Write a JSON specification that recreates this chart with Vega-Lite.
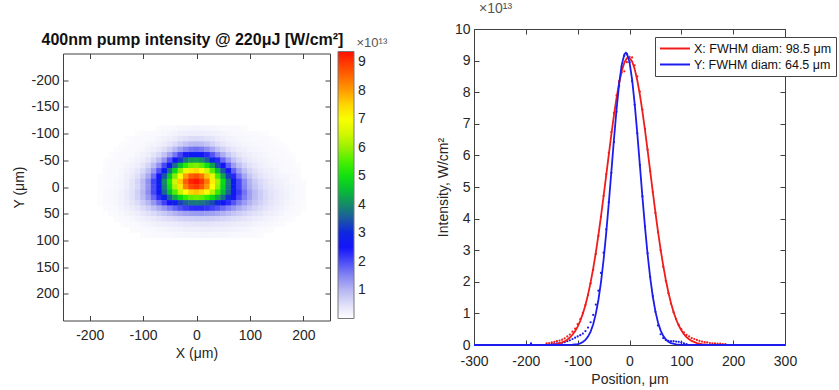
{
"$schema": "https://vega.github.io/schema/vega-lite/v6.json",
"background": "white",
"padding": {"left": 12, "top": 1, "right": 0, "bottom": 0},
"spacing": 144,
"bounds": "flush",
"center": true,
"config": {
"font": "Liberation Sans",
"view": {"stroke": "#404040", "strokeWidth": 1},
"axis": {"grid": false, "domain": false, "tickSize": -5, "tickColor": "#404040", "labelPadding": 9, "labelFontSize": 14, "labelColor": "#262626", "titleFontSize": 14, "titleFontWeight": "normal", "titleColor": "#262626", "labelFlush": false, "labelOverlap": false, "titlePadding": 4}
},
"datasets": {
"heat": [
{"x":-70,"y":-110,"v":0.06},{"x":-60,"y":-110,"v":0.07},{"x":-50,"y":-110,"v":0.08},{"x":-40,"y":-110,"v":0.11},{"x":-30,"y":-110,"v":0.13},{"x":-20,"y":-110,"v":0.14},{"x":-10,"y":-110,"v":0.15},{"x":0,"y":-110,"v":0.16},{"x":10,"y":-110,"v":0.15},{"x":20,"y":-110,"v":0.14},{"x":30,"y":-110,"v":0.13},{"x":40,"y":-110,"v":0.11},{"x":50,"y":-110,"v":0.09},{"x":60,"y":-110,"v":0.08},{"x":70,"y":-110,"v":0.08},{"x":80,"y":-110,"v":0.07},{"x":90,"y":-110,"v":0.06},
{"x":-110,"y":-100,"v":0.05},{"x":-100,"y":-100,"v":0.06},{"x":-90,"y":-100,"v":0.07},{"x":-80,"y":-100,"v":0.08},{"x":-70,"y":-100,"v":0.09},{"x":-60,"y":-100,"v":0.12},{"x":-50,"y":-100,"v":0.15},{"x":-40,"y":-100,"v":0.18},{"x":-30,"y":-100,"v":0.22},{"x":-20,"y":-100,"v":0.26},{"x":-10,"y":-100,"v":0.28},{"x":0,"y":-100,"v":0.28},{"x":10,"y":-100,"v":0.28},{"x":20,"y":-100,"v":0.25},{"x":30,"y":-100,"v":0.22},{"x":40,"y":-100,"v":0.19},{"x":50,"y":-100,"v":0.16},{"x":60,"y":-100,"v":0.13},{"x":70,"y":-100,"v":0.11},{"x":80,"y":-100,"v":0.10},{"x":90,"y":-100,"v":0.09},{"x":100,"y":-100,"v":0.08},{"x":110,"y":-100,"v":0.07},{"x":120,"y":-100,"v":0.06},{"x":130,"y":-100,"v":0.05},
{"x":-130,"y":-90,"v":0.05},{"x":-120,"y":-90,"v":0.06},{"x":-110,"y":-90,"v":0.07},{"x":-100,"y":-90,"v":0.08},{"x":-90,"y":-90,"v":0.09},{"x":-80,"y":-90,"v":0.11},{"x":-70,"y":-90,"v":0.15},{"x":-60,"y":-90,"v":0.19},{"x":-50,"y":-90,"v":0.24},{"x":-40,"y":-90,"v":0.31},{"x":-30,"y":-90,"v":0.39},{"x":-20,"y":-90,"v":0.47},{"x":-10,"y":-90,"v":0.53},{"x":0,"y":-90,"v":0.54},{"x":10,"y":-90,"v":0.51},{"x":20,"y":-90,"v":0.46},{"x":30,"y":-90,"v":0.39},{"x":40,"y":-90,"v":0.31},{"x":50,"y":-90,"v":0.24},{"x":60,"y":-90,"v":0.20},{"x":70,"y":-90,"v":0.16},{"x":80,"y":-90,"v":0.13},{"x":90,"y":-90,"v":0.12},{"x":100,"y":-90,"v":0.10},{"x":110,"y":-90,"v":0.09},{"x":120,"y":-90,"v":0.08},{"x":130,"y":-90,"v":0.07},{"x":140,"y":-90,"v":0.06},{"x":150,"y":-90,"v":0.05},
{"x":-140,"y":-80,"v":0.05},{"x":-130,"y":-80,"v":0.06},{"x":-120,"y":-80,"v":0.07},{"x":-110,"y":-80,"v":0.09},{"x":-100,"y":-80,"v":0.10},{"x":-90,"y":-80,"v":0.13},{"x":-80,"y":-80,"v":0.16},{"x":-70,"y":-80,"v":0.21},{"x":-60,"y":-80,"v":0.29},{"x":-50,"y":-80,"v":0.40},{"x":-40,"y":-80,"v":0.53},{"x":-30,"y":-80,"v":0.69},{"x":-20,"y":-80,"v":0.84},{"x":-10,"y":-80,"v":0.94},{"x":0,"y":-80,"v":0.97},{"x":10,"y":-80,"v":0.92},{"x":20,"y":-80,"v":0.80},{"x":30,"y":-80,"v":0.65},{"x":40,"y":-80,"v":0.50},{"x":50,"y":-80,"v":0.38},{"x":60,"y":-80,"v":0.29},{"x":70,"y":-80,"v":0.23},{"x":80,"y":-80,"v":0.19},{"x":90,"y":-80,"v":0.15},{"x":100,"y":-80,"v":0.14},{"x":110,"y":-80,"v":0.12},{"x":120,"y":-80,"v":0.10},{"x":130,"y":-80,"v":0.09},{"x":140,"y":-80,"v":0.07},{"x":150,"y":-80,"v":0.06},{"x":160,"y":-80,"v":0.05},
{"x":-150,"y":-70,"v":0.05},{"x":-140,"y":-70,"v":0.06},{"x":-130,"y":-70,"v":0.08},{"x":-120,"y":-70,"v":0.09},{"x":-110,"y":-70,"v":0.11},{"x":-100,"y":-70,"v":0.14},{"x":-90,"y":-70,"v":0.19},{"x":-80,"y":-70,"v":0.25},{"x":-70,"y":-70,"v":0.35},{"x":-60,"y":-70,"v":0.50},{"x":-50,"y":-70,"v":0.70},{"x":-40,"y":-70,"v":0.96},{"x":-30,"y":-70,"v":1.23},{"x":-20,"y":-70,"v":1.48},{"x":-10,"y":-70,"v":1.65},{"x":0,"y":-70,"v":1.69},{"x":10,"y":-70,"v":1.60},{"x":20,"y":-70,"v":1.41},{"x":30,"y":-70,"v":1.15},{"x":40,"y":-70,"v":0.88},{"x":50,"y":-70,"v":0.66},{"x":60,"y":-70,"v":0.48},{"x":70,"y":-70,"v":0.35},{"x":80,"y":-70,"v":0.27},{"x":90,"y":-70,"v":0.22},{"x":100,"y":-70,"v":0.17},{"x":110,"y":-70,"v":0.15},{"x":120,"y":-70,"v":0.13},{"x":130,"y":-70,"v":0.11},{"x":140,"y":-70,"v":0.09},{"x":150,"y":-70,"v":0.08},{"x":160,"y":-70,"v":0.06},{"x":170,"y":-70,"v":0.05},
{"x":-160,"y":-60,"v":0.05},{"x":-150,"y":-60,"v":0.06},{"x":-140,"y":-60,"v":0.08},{"x":-130,"y":-60,"v":0.09},{"x":-120,"y":-60,"v":0.11},{"x":-110,"y":-60,"v":0.15},{"x":-100,"y":-60,"v":0.20},{"x":-90,"y":-60,"v":0.27},{"x":-80,"y":-60,"v":0.39},{"x":-70,"y":-60,"v":0.58},{"x":-60,"y":-60,"v":0.84},{"x":-50,"y":-60,"v":1.20},{"x":-40,"y":-60,"v":1.62},{"x":-30,"y":-60,"v":2.06},{"x":-20,"y":-60,"v":2.45},{"x":-10,"y":-60,"v":2.70},{"x":0,"y":-60,"v":2.77},{"x":10,"y":-60,"v":2.63},{"x":20,"y":-60,"v":2.32},{"x":30,"y":-60,"v":1.91},{"x":40,"y":-60,"v":1.49},{"x":50,"y":-60,"v":1.10},{"x":60,"y":-60,"v":0.78},{"x":70,"y":-60,"v":0.56},{"x":80,"y":-60,"v":0.40},{"x":90,"y":-60,"v":0.30},{"x":100,"y":-60,"v":0.24},{"x":110,"y":-60,"v":0.18},{"x":120,"y":-60,"v":0.16},{"x":130,"y":-60,"v":0.13},{"x":140,"y":-60,"v":0.11},{"x":150,"y":-60,"v":0.09},{"x":160,"y":-60,"v":0.08},{"x":170,"y":-60,"v":0.06},{"x":180,"y":-60,"v":0.05},
{"x":-170,"y":-50,"v":0.05},{"x":-160,"y":-50,"v":0.06},{"x":-150,"y":-50,"v":0.07},{"x":-140,"y":-50,"v":0.09},{"x":-130,"y":-50,"v":0.11},{"x":-120,"y":-50,"v":0.15},{"x":-110,"y":-50,"v":0.21},{"x":-100,"y":-50,"v":0.28},{"x":-90,"y":-50,"v":0.41},{"x":-80,"y":-50,"v":0.63},{"x":-70,"y":-50,"v":0.93},{"x":-60,"y":-50,"v":1.36},{"x":-50,"y":-50,"v":1.92},{"x":-40,"y":-50,"v":2.55},{"x":-30,"y":-50,"v":3.19},{"x":-20,"y":-50,"v":3.75},{"x":-10,"y":-50,"v":4.10},{"x":0,"y":-50,"v":4.20},{"x":10,"y":-50,"v":4.00},{"x":20,"y":-50,"v":3.57},{"x":30,"y":-50,"v":2.97},{"x":40,"y":-50,"v":2.33},{"x":50,"y":-50,"v":1.74},{"x":60,"y":-50,"v":1.24},{"x":70,"y":-50,"v":0.86},{"x":80,"y":-50,"v":0.60},{"x":90,"y":-50,"v":0.43},{"x":100,"y":-50,"v":0.32},{"x":110,"y":-50,"v":0.25},{"x":120,"y":-50,"v":0.19},{"x":130,"y":-50,"v":0.16},{"x":140,"y":-50,"v":0.13},{"x":150,"y":-50,"v":0.11},{"x":160,"y":-50,"v":0.09},{"x":170,"y":-50,"v":0.07},{"x":180,"y":-50,"v":0.06},
{"x":-170,"y":-40,"v":0.05},{"x":-160,"y":-40,"v":0.07},{"x":-150,"y":-40,"v":0.08},{"x":-140,"y":-40,"v":0.10},{"x":-130,"y":-40,"v":0.15},{"x":-120,"y":-40,"v":0.20},{"x":-110,"y":-40,"v":0.28},{"x":-100,"y":-40,"v":0.41},{"x":-90,"y":-40,"v":0.61},{"x":-80,"y":-40,"v":0.94},{"x":-70,"y":-40,"v":1.41},{"x":-60,"y":-40,"v":2.03},{"x":-50,"y":-40,"v":2.82},{"x":-40,"y":-40,"v":3.68},{"x":-30,"y":-40,"v":4.55},{"x":-20,"y":-40,"v":5.27},{"x":-10,"y":-40,"v":5.73},{"x":0,"y":-40,"v":5.85},{"x":10,"y":-40,"v":5.60},{"x":20,"y":-40,"v":5.02},{"x":30,"y":-40,"v":4.23},{"x":40,"y":-40,"v":3.37},{"x":50,"y":-40,"v":2.54},{"x":60,"y":-40,"v":1.83},{"x":70,"y":-40,"v":1.27},{"x":80,"y":-40,"v":0.89},{"x":90,"y":-40,"v":0.62},{"x":100,"y":-40,"v":0.44},{"x":110,"y":-40,"v":0.33},{"x":120,"y":-40,"v":0.26},{"x":130,"y":-40,"v":0.20},{"x":140,"y":-40,"v":0.15},{"x":150,"y":-40,"v":0.13},{"x":160,"y":-40,"v":0.10},{"x":170,"y":-40,"v":0.08},{"x":180,"y":-40,"v":0.07},{"x":190,"y":-40,"v":0.05},
{"x":-170,"y":-30,"v":0.06},{"x":-160,"y":-30,"v":0.07},{"x":-150,"y":-30,"v":0.09},{"x":-140,"y":-30,"v":0.13},{"x":-130,"y":-30,"v":0.18},{"x":-120,"y":-30,"v":0.26},{"x":-110,"y":-30,"v":0.38},{"x":-100,"y":-30,"v":0.57},{"x":-90,"y":-30,"v":0.87},{"x":-80,"y":-30,"v":1.32},{"x":-70,"y":-30,"v":1.96},{"x":-60,"y":-30,"v":2.79},{"x":-50,"y":-30,"v":3.78},{"x":-40,"y":-30,"v":4.87},{"x":-30,"y":-30,"v":5.92},{"x":-20,"y":-30,"v":6.78},{"x":-10,"y":-30,"v":7.33},{"x":0,"y":-30,"v":7.46},{"x":10,"y":-30,"v":7.16},{"x":20,"y":-30,"v":6.47},{"x":30,"y":-30,"v":5.57},{"x":40,"y":-30,"v":4.50},{"x":50,"y":-30,"v":3.46},{"x":60,"y":-30,"v":2.55},{"x":70,"y":-30,"v":1.81},{"x":80,"y":-30,"v":1.26},{"x":90,"y":-30,"v":0.87},{"x":100,"y":-30,"v":0.61},{"x":110,"y":-30,"v":0.45},{"x":120,"y":-30,"v":0.33},{"x":130,"y":-30,"v":0.26},{"x":140,"y":-30,"v":0.21},{"x":150,"y":-30,"v":0.16},{"x":160,"y":-30,"v":0.11},{"x":170,"y":-30,"v":0.09},{"x":180,"y":-30,"v":0.07},{"x":190,"y":-30,"v":0.06},
{"x":-180,"y":-20,"v":0.05},{"x":-170,"y":-20,"v":0.06},{"x":-160,"y":-20,"v":0.08},{"x":-150,"y":-20,"v":0.11},{"x":-140,"y":-20,"v":0.14},{"x":-130,"y":-20,"v":0.22},{"x":-120,"y":-20,"v":0.32},{"x":-110,"y":-20,"v":0.49},{"x":-100,"y":-20,"v":0.75},{"x":-90,"y":-20,"v":1.14},{"x":-80,"y":-20,"v":1.72},{"x":-70,"y":-20,"v":2.50},{"x":-60,"y":-20,"v":3.49},{"x":-50,"y":-20,"v":4.63},{"x":-40,"y":-20,"v":5.86},{"x":-30,"y":-20,"v":7.03},{"x":-20,"y":-20,"v":7.98},{"x":-10,"y":-20,"v":8.59},{"x":0,"y":-20,"v":8.74},{"x":10,"y":-20,"v":8.42},{"x":20,"y":-20,"v":7.68},{"x":30,"y":-20,"v":6.65},{"x":40,"y":-20,"v":5.47},{"x":50,"y":-20,"v":4.29},{"x":60,"y":-20,"v":3.22},{"x":70,"y":-20,"v":2.33},{"x":80,"y":-20,"v":1.65},{"x":90,"y":-20,"v":1.15},{"x":100,"y":-20,"v":0.80},{"x":110,"y":-20,"v":0.58},{"x":120,"y":-20,"v":0.43},{"x":130,"y":-20,"v":0.32},{"x":140,"y":-20,"v":0.26},{"x":150,"y":-20,"v":0.20},{"x":160,"y":-20,"v":0.15},{"x":170,"y":-20,"v":0.13},{"x":180,"y":-20,"v":0.10},{"x":190,"y":-20,"v":0.08},
{"x":-180,"y":-10,"v":0.05},{"x":-170,"y":-10,"v":0.06},{"x":-160,"y":-10,"v":0.09},{"x":-150,"y":-10,"v":0.12},{"x":-140,"y":-10,"v":0.17},{"x":-130,"y":-10,"v":0.26},{"x":-120,"y":-10,"v":0.40},{"x":-110,"y":-10,"v":0.61},{"x":-100,"y":-10,"v":0.93},{"x":-90,"y":-10,"v":1.41},{"x":-80,"y":-10,"v":2.07},{"x":-70,"y":-10,"v":2.93},{"x":-60,"y":-10,"v":3.99},{"x":-50,"y":-10,"v":5.20},{"x":-40,"y":-10,"v":6.44},{"x":-30,"y":-10,"v":7.62},{"x":-20,"y":-10,"v":8.59},{"x":-10,"y":-10,"v":9.18},{"x":0,"y":-10,"v":9.33},{"x":10,"y":-10,"v":9.02},{"x":20,"y":-10,"v":8.31},{"x":30,"y":-10,"v":7.29},{"x":40,"y":-10,"v":6.10},{"x":50,"y":-10,"v":4.89},{"x":60,"y":-10,"v":3.76},{"x":70,"y":-10,"v":2.79},{"x":80,"y":-10,"v":2.03},{"x":90,"y":-10,"v":1.45},{"x":100,"y":-10,"v":1.03},{"x":110,"y":-10,"v":0.74},{"x":120,"y":-10,"v":0.55},{"x":130,"y":-10,"v":0.42},{"x":140,"y":-10,"v":0.32},{"x":150,"y":-10,"v":0.24},{"x":160,"y":-10,"v":0.20},{"x":170,"y":-10,"v":0.15},{"x":180,"y":-10,"v":0.11},{"x":190,"y":-10,"v":0.08},{"x":200,"y":-10,"v":0.06},
{"x":-180,"y":0,"v":0.05},{"x":-170,"y":0,"v":0.06},{"x":-160,"y":0,"v":0.09},{"x":-150,"y":0,"v":0.12},{"x":-140,"y":0,"v":0.17},{"x":-130,"y":0,"v":0.26},{"x":-120,"y":0,"v":0.39},{"x":-110,"y":0,"v":0.59},{"x":-100,"y":0,"v":0.90},{"x":-90,"y":0,"v":1.36},{"x":-80,"y":0,"v":2.00},{"x":-70,"y":0,"v":2.83},{"x":-60,"y":0,"v":3.84},{"x":-50,"y":0,"v":5.00},{"x":-40,"y":0,"v":6.23},{"x":-30,"y":0,"v":7.35},{"x":-20,"y":0,"v":8.27},{"x":-10,"y":0,"v":8.84},{"x":0,"y":0,"v":9.00},{"x":10,"y":0,"v":8.71},{"x":20,"y":0,"v":8.04},{"x":30,"y":0,"v":7.06},{"x":40,"y":0,"v":5.94},{"x":50,"y":0,"v":4.78},{"x":60,"y":0,"v":3.71},{"x":70,"y":0,"v":2.78},{"x":80,"y":0,"v":2.05},{"x":90,"y":0,"v":1.49},{"x":100,"y":0,"v":1.08},{"x":110,"y":0,"v":0.80},{"x":120,"y":0,"v":0.60},{"x":130,"y":0,"v":0.46},{"x":140,"y":0,"v":0.37},{"x":150,"y":0,"v":0.28},{"x":160,"y":0,"v":0.22},{"x":170,"y":0,"v":0.17},{"x":180,"y":0,"v":0.13},{"x":190,"y":0,"v":0.10},{"x":200,"y":0,"v":0.07},
{"x":-180,"y":10,"v":0.05},{"x":-170,"y":10,"v":0.07},{"x":-160,"y":10,"v":0.10},{"x":-150,"y":10,"v":0.14},{"x":-140,"y":10,"v":0.20},{"x":-130,"y":10,"v":0.30},{"x":-120,"y":10,"v":0.44},{"x":-110,"y":10,"v":0.67},{"x":-100,"y":10,"v":0.99},{"x":-90,"y":10,"v":1.43},{"x":-80,"y":10,"v":2.03},{"x":-70,"y":10,"v":2.76},{"x":-60,"y":10,"v":3.62},{"x":-50,"y":10,"v":4.56},{"x":-40,"y":10,"v":5.52},{"x":-30,"y":10,"v":6.38},{"x":-20,"y":10,"v":7.08},{"x":-10,"y":10,"v":7.52},{"x":0,"y":10,"v":7.65},{"x":10,"y":10,"v":7.45},{"x":20,"y":10,"v":6.96},{"x":30,"y":10,"v":6.24},{"x":40,"y":10,"v":5.38},{"x":50,"y":10,"v":4.47},{"x":60,"y":10,"v":3.60},{"x":70,"y":10,"v":2.82},{"x":80,"y":10,"v":2.16},{"x":90,"y":10,"v":1.64},{"x":100,"y":10,"v":1.23},{"x":110,"y":10,"v":0.93},{"x":120,"y":10,"v":0.71},{"x":130,"y":10,"v":0.54},{"x":140,"y":10,"v":0.41},{"x":150,"y":10,"v":0.33},{"x":160,"y":10,"v":0.25},{"x":170,"y":10,"v":0.19},{"x":180,"y":10,"v":0.14},{"x":190,"y":10,"v":0.10},{"x":200,"y":10,"v":0.08},
{"x":-180,"y":20,"v":0.05},{"x":-170,"y":20,"v":0.07},{"x":-160,"y":20,"v":0.10},{"x":-150,"y":20,"v":0.14},{"x":-140,"y":20,"v":0.21},{"x":-130,"y":20,"v":0.31},{"x":-120,"y":20,"v":0.45},{"x":-110,"y":20,"v":0.65},{"x":-100,"y":20,"v":0.93},{"x":-90,"y":20,"v":1.29},{"x":-80,"y":20,"v":1.76},{"x":-70,"y":20,"v":2.31},{"x":-60,"y":20,"v":2.94},{"x":-50,"y":20,"v":3.61},{"x":-40,"y":20,"v":4.28},{"x":-30,"y":20,"v":4.87},{"x":-20,"y":20,"v":5.34},{"x":-10,"y":20,"v":5.64},{"x":0,"y":20,"v":5.74},{"x":10,"y":20,"v":5.63},{"x":20,"y":20,"v":5.32},{"x":30,"y":20,"v":4.86},{"x":40,"y":20,"v":4.28},{"x":50,"y":20,"v":3.67},{"x":60,"y":20,"v":3.05},{"x":70,"y":20,"v":2.47},{"x":80,"y":20,"v":1.98},{"x":90,"y":20,"v":1.55},{"x":100,"y":20,"v":1.21},{"x":110,"y":20,"v":0.93},{"x":120,"y":20,"v":0.72},{"x":130,"y":20,"v":0.56},{"x":140,"y":20,"v":0.44},{"x":150,"y":20,"v":0.34},{"x":160,"y":20,"v":0.25},{"x":170,"y":20,"v":0.19},{"x":180,"y":20,"v":0.14},{"x":190,"y":20,"v":0.11},{"x":200,"y":20,"v":0.07},
{"x":-180,"y":30,"v":0.05},{"x":-170,"y":30,"v":0.07},{"x":-160,"y":30,"v":0.10},{"x":-150,"y":30,"v":0.14},{"x":-140,"y":30,"v":0.19},{"x":-130,"y":30,"v":0.27},{"x":-120,"y":30,"v":0.39},{"x":-110,"y":30,"v":0.54},{"x":-100,"y":30,"v":0.75},{"x":-90,"y":30,"v":1.00},{"x":-80,"y":30,"v":1.32},{"x":-70,"y":30,"v":1.70},{"x":-60,"y":30,"v":2.10},{"x":-50,"y":30,"v":2.52},{"x":-40,"y":30,"v":2.93},{"x":-30,"y":30,"v":3.29},{"x":-20,"y":30,"v":3.58},{"x":-10,"y":30,"v":3.77},{"x":0,"y":30,"v":3.83},{"x":10,"y":30,"v":3.78},{"x":20,"y":30,"v":3.61},{"x":30,"y":30,"v":3.35},{"x":40,"y":30,"v":3.02},{"x":50,"y":30,"v":2.65},{"x":60,"y":30,"v":2.28},{"x":70,"y":30,"v":1.91},{"x":80,"y":30,"v":1.57},{"x":90,"y":30,"v":1.28},{"x":100,"y":30,"v":1.03},{"x":110,"y":30,"v":0.82},{"x":120,"y":30,"v":0.65},{"x":130,"y":30,"v":0.51},{"x":140,"y":30,"v":0.40},{"x":150,"y":30,"v":0.32},{"x":160,"y":30,"v":0.24},{"x":170,"y":30,"v":0.17},{"x":180,"y":30,"v":0.13},{"x":190,"y":30,"v":0.09},{"x":200,"y":30,"v":0.06},
{"x":-170,"y":40,"v":0.06},{"x":-160,"y":40,"v":0.08},{"x":-150,"y":40,"v":0.11},{"x":-140,"y":40,"v":0.16},{"x":-130,"y":40,"v":0.22},{"x":-120,"y":40,"v":0.30},{"x":-110,"y":40,"v":0.40},{"x":-100,"y":40,"v":0.54},{"x":-90,"y":40,"v":0.69},{"x":-80,"y":40,"v":0.89},{"x":-70,"y":40,"v":1.10},{"x":-60,"y":40,"v":1.33},{"x":-50,"y":40,"v":1.57},{"x":-40,"y":40,"v":1.79},{"x":-30,"y":40,"v":1.98},{"x":-20,"y":40,"v":2.15},{"x":-10,"y":40,"v":2.26},{"x":0,"y":40,"v":2.31},{"x":10,"y":40,"v":2.29},{"x":20,"y":40,"v":2.21},{"x":30,"y":40,"v":2.09},{"x":40,"y":40,"v":1.92},{"x":50,"y":40,"v":1.73},{"x":60,"y":40,"v":1.52},{"x":70,"y":40,"v":1.32},{"x":80,"y":40,"v":1.12},{"x":90,"y":40,"v":0.95},{"x":100,"y":40,"v":0.78},{"x":110,"y":40,"v":0.64},{"x":120,"y":40,"v":0.52},{"x":130,"y":40,"v":0.42},{"x":140,"y":40,"v":0.33},{"x":150,"y":40,"v":0.26},{"x":160,"y":40,"v":0.20},{"x":170,"y":40,"v":0.14},{"x":180,"y":40,"v":0.11},{"x":190,"y":40,"v":0.08},{"x":200,"y":40,"v":0.05},
{"x":-160,"y":50,"v":0.06},{"x":-150,"y":50,"v":0.09},{"x":-140,"y":50,"v":0.12},{"x":-130,"y":50,"v":0.16},{"x":-120,"y":50,"v":0.21},{"x":-110,"y":50,"v":0.27},{"x":-100,"y":50,"v":0.36},{"x":-90,"y":50,"v":0.45},{"x":-80,"y":50,"v":0.54},{"x":-70,"y":50,"v":0.66},{"x":-60,"y":50,"v":0.78},{"x":-50,"y":50,"v":0.90},{"x":-40,"y":50,"v":1.02},{"x":-30,"y":50,"v":1.12},{"x":-20,"y":50,"v":1.20},{"x":-10,"y":50,"v":1.26},{"x":0,"y":50,"v":1.28},{"x":10,"y":50,"v":1.29},{"x":20,"y":50,"v":1.25},{"x":30,"y":50,"v":1.20},{"x":40,"y":50,"v":1.13},{"x":50,"y":50,"v":1.04},{"x":60,"y":50,"v":0.93},{"x":70,"y":50,"v":0.83},{"x":80,"y":50,"v":0.73},{"x":90,"y":50,"v":0.62},{"x":100,"y":50,"v":0.53},{"x":110,"y":50,"v":0.45},{"x":120,"y":50,"v":0.38},{"x":130,"y":50,"v":0.30},{"x":140,"y":50,"v":0.24},{"x":150,"y":50,"v":0.19},{"x":160,"y":50,"v":0.15},{"x":170,"y":50,"v":0.11},{"x":180,"y":50,"v":0.08},{"x":190,"y":50,"v":0.06},
{"x":-150,"y":60,"v":0.06},{"x":-140,"y":60,"v":0.08},{"x":-130,"y":60,"v":0.11},{"x":-120,"y":60,"v":0.14},{"x":-110,"y":60,"v":0.18},{"x":-100,"y":60,"v":0.22},{"x":-90,"y":60,"v":0.27},{"x":-80,"y":60,"v":0.33},{"x":-70,"y":60,"v":0.39},{"x":-60,"y":60,"v":0.45},{"x":-50,"y":60,"v":0.51},{"x":-40,"y":60,"v":0.57},{"x":-30,"y":60,"v":0.62},{"x":-20,"y":60,"v":0.66},{"x":-10,"y":60,"v":0.69},{"x":0,"y":60,"v":0.71},{"x":10,"y":60,"v":0.71},{"x":20,"y":60,"v":0.71},{"x":30,"y":60,"v":0.68},{"x":40,"y":60,"v":0.65},{"x":50,"y":60,"v":0.61},{"x":60,"y":60,"v":0.56},{"x":70,"y":60,"v":0.50},{"x":80,"y":60,"v":0.45},{"x":90,"y":60,"v":0.40},{"x":100,"y":60,"v":0.34},{"x":110,"y":60,"v":0.29},{"x":120,"y":60,"v":0.25},{"x":130,"y":60,"v":0.20},{"x":140,"y":60,"v":0.16},{"x":150,"y":60,"v":0.13},{"x":160,"y":60,"v":0.10},{"x":170,"y":60,"v":0.07},{"x":180,"y":60,"v":0.05},
{"x":-140,"y":70,"v":0.05},{"x":-130,"y":70,"v":0.07},{"x":-120,"y":70,"v":0.08},{"x":-110,"y":70,"v":0.11},{"x":-100,"y":70,"v":0.14},{"x":-90,"y":70,"v":0.17},{"x":-80,"y":70,"v":0.20},{"x":-70,"y":70,"v":0.22},{"x":-60,"y":70,"v":0.26},{"x":-50,"y":70,"v":0.29},{"x":-40,"y":70,"v":0.31},{"x":-30,"y":70,"v":0.34},{"x":-20,"y":70,"v":0.36},{"x":-10,"y":70,"v":0.38},{"x":0,"y":70,"v":0.39},{"x":10,"y":70,"v":0.39},{"x":20,"y":70,"v":0.40},{"x":30,"y":70,"v":0.38},{"x":40,"y":70,"v":0.36},{"x":50,"y":70,"v":0.35},{"x":60,"y":70,"v":0.33},{"x":70,"y":70,"v":0.30},{"x":80,"y":70,"v":0.27},{"x":90,"y":70,"v":0.24},{"x":100,"y":70,"v":0.22},{"x":110,"y":70,"v":0.18},{"x":120,"y":70,"v":0.15},{"x":130,"y":70,"v":0.13},{"x":140,"y":70,"v":0.10},{"x":150,"y":70,"v":0.08},{"x":160,"y":70,"v":0.06},
{"x":-120,"y":80,"v":0.06},{"x":-110,"y":80,"v":0.07},{"x":-100,"y":80,"v":0.08},{"x":-90,"y":80,"v":0.10},{"x":-80,"y":80,"v":0.11},{"x":-70,"y":80,"v":0.13},{"x":-60,"y":80,"v":0.14},{"x":-50,"y":80,"v":0.16},{"x":-40,"y":80,"v":0.18},{"x":-30,"y":80,"v":0.19},{"x":-20,"y":80,"v":0.22},{"x":-10,"y":80,"v":0.23},{"x":0,"y":80,"v":0.23},{"x":10,"y":80,"v":0.24},{"x":20,"y":80,"v":0.24},{"x":30,"y":80,"v":0.24},{"x":40,"y":80,"v":0.23},{"x":50,"y":80,"v":0.22},{"x":60,"y":80,"v":0.21},{"x":70,"y":80,"v":0.19},{"x":80,"y":80,"v":0.18},{"x":90,"y":80,"v":0.15},{"x":100,"y":80,"v":0.13},{"x":110,"y":80,"v":0.11},{"x":120,"y":80,"v":0.09},{"x":130,"y":80,"v":0.07},{"x":140,"y":80,"v":0.06},
{"x":-100,"y":90,"v":0.06},{"x":-90,"y":90,"v":0.07},{"x":-80,"y":90,"v":0.08},{"x":-70,"y":90,"v":0.09},{"x":-60,"y":90,"v":0.10},{"x":-50,"y":90,"v":0.11},{"x":-40,"y":90,"v":0.12},{"x":-30,"y":90,"v":0.13},{"x":-20,"y":90,"v":0.14},{"x":-10,"y":90,"v":0.14},{"x":0,"y":90,"v":0.15},{"x":10,"y":90,"v":0.15},{"x":20,"y":90,"v":0.15},{"x":30,"y":90,"v":0.14},{"x":40,"y":90,"v":0.14},{"x":50,"y":90,"v":0.13},{"x":60,"y":90,"v":0.12},{"x":70,"y":90,"v":0.11},{"x":80,"y":90,"v":0.10},{"x":90,"y":90,"v":0.09},{"x":100,"y":90,"v":0.08},{"x":110,"y":90,"v":0.07},{"x":120,"y":90,"v":0.06}
],
"fits": [
{"s":"X","p":-300,"v":0},{"s":"X","p":-200,"v":0},{"s":"X","p":-170,"v":0.003},{"s":"X","p":-160,"v":0.007},{"s":"X","p":-150,"v":0.017},{"s":"X","p":-140,"v":0.039},{"s":"X","p":-130,"v":0.084},{"s":"X","p":-125,"v":0.120},{"s":"X","p":-120,"v":0.169},{"s":"X","p":-115,"v":0.235},{"s":"X","p":-110,"v":0.323},{"s":"X","p":-105,"v":0.437},{"s":"X","p":-100,"v":0.582},{"s":"X","p":-95,"v":0.766},{"s":"X","p":-90,"v":0.992},{"s":"X","p":-85,"v":1.267},{"s":"X","p":-80,"v":1.595},{"s":"X","p":-75,"v":1.980},{"s":"X","p":-70,"v":2.423},{"s":"X","p":-65,"v":2.922},{"s":"X","p":-60,"v":3.474},{"s":"X","p":-55,"v":4.073},{"s":"X","p":-50,"v":4.707},{"s":"X","p":-45,"v":5.361},{"s":"X","p":-40,"v":6.020},{"s":"X","p":-35,"v":6.663},{"s":"X","p":-30,"v":7.271},{"s":"X","p":-25,"v":7.821},{"s":"X","p":-20,"v":8.294},{"s":"X","p":-15,"v":8.670},{"s":"X","p":-10,"v":8.935},{"s":"X","p":-5,"v":9.076},{"s":"X","p":-2,"v":9.1},{"s":"X","p":0,"v":9.090},{"s":"X","p":5,"v":8.973},{"s":"X","p":10,"v":8.732},{"s":"X","p":15,"v":8.377},{"s":"X","p":20,"v":7.923},{"s":"X","p":25,"v":7.387},{"s":"X","p":30,"v":6.788},{"s":"X","p":35,"v":6.150},{"s":"X","p":40,"v":5.493},{"s":"X","p":45,"v":4.836},{"s":"X","p":50,"v":4.197},{"s":"X","p":55,"v":3.591},{"s":"X","p":60,"v":3.028},{"s":"X","p":65,"v":2.518},{"s":"X","p":70,"v":2.064},{"s":"X","p":75,"v":1.668},{"s":"X","p":80,"v":1.328},{"s":"X","p":85,"v":1.043},{"s":"X","p":90,"v":0.807},{"s":"X","p":95,"v":0.616},{"s":"X","p":100,"v":0.463},{"s":"X","p":105,"v":0.343},{"s":"X","p":110,"v":0.251},{"s":"X","p":115,"v":0.181},{"s":"X","p":120,"v":0.129},{"s":"X","p":130,"v":0.062},{"s":"X","p":140,"v":0.028},{"s":"X","p":150,"v":0.012},{"s":"X","p":160,"v":0.005},{"s":"X","p":170,"v":0.002},{"s":"X","p":200,"v":0},{"s":"X","p":300,"v":0},
{"s":"Y","p":-300,"v":0},{"s":"Y","p":-200,"v":0},{"s":"Y","p":-130,"v":0},{"s":"Y","p":-120,"v":0.002},{"s":"Y","p":-110,"v":0.008},{"s":"Y","p":-100,"v":0.029},{"s":"Y","p":-95,"v":0.053},{"s":"Y","p":-90,"v":0.094},{"s":"Y","p":-85,"v":0.161},{"s":"Y","p":-80,"v":0.266},{"s":"Y","p":-75,"v":0.425},{"s":"Y","p":-70,"v":0.658},{"s":"Y","p":-65,"v":0.984},{"s":"Y","p":-60,"v":1.424},{"s":"Y","p":-55,"v":1.993},{"s":"Y","p":-50,"v":2.698},{"s":"Y","p":-45,"v":3.534},{"s":"Y","p":-40,"v":4.478},{"s":"Y","p":-35,"v":5.487},{"s":"Y","p":-30,"v":6.503},{"s":"Y","p":-25,"v":7.454},{"s":"Y","p":-20,"v":8.265},{"s":"Y","p":-15,"v":8.864},{"s":"Y","p":-10,"v":9.195},{"s":"Y","p":-7,"v":9.25},{"s":"Y","p":-5,"v":9.225},{"s":"Y","p":0,"v":8.953},{"s":"Y","p":5,"v":8.403},{"s":"Y","p":10,"v":7.630},{"s":"Y","p":15,"v":6.700},{"s":"Y","p":20,"v":5.692},{"s":"Y","p":25,"v":4.676},{"s":"Y","p":30,"v":3.716},{"s":"Y","p":35,"v":2.855},{"s":"Y","p":40,"v":2.123},{"s":"Y","p":45,"v":1.527},{"s":"Y","p":50,"v":1.062},{"s":"Y","p":55,"v":0.714},{"s":"Y","p":60,"v":0.464},{"s":"Y","p":65,"v":0.292},{"s":"Y","p":70,"v":0.178},{"s":"Y","p":75,"v":0.105},{"s":"Y","p":80,"v":0.060},{"s":"Y","p":90,"v":0.018},{"s":"Y","p":100,"v":0.005},{"s":"Y","p":110,"v":0.001},{"s":"Y","p":200,"v":0},{"s":"Y","p":300,"v":0}
],
"dots": [
{"s":"X","p":-160,"v":0.05},{"s":"X","p":-155,"v":0.06},{"s":"X","p":-150,"v":0.08},{"s":"X","p":-145,"v":0.10},{"s":"X","p":-140,"v":0.12},{"s":"X","p":-135,"v":0.14},{"s":"X","p":-130,"v":0.17},{"s":"X","p":-125,"v":0.21},{"s":"X","p":-120,"v":0.27},{"s":"X","p":-115,"v":0.33},{"s":"X","p":-110,"v":0.42},{"s":"X","p":-105,"v":0.52},{"s":"X","p":-100,"v":0.66},{"s":"X","p":-95,"v":0.82},{"s":"X","p":-90,"v":1.02},{"s":"X","p":-85,"v":1.27},{"s":"X","p":-80,"v":1.58},{"s":"X","p":-75,"v":1.95},{"s":"X","p":-70,"v":2.38},{"s":"X","p":-65,"v":2.88},{"s":"X","p":-60,"v":3.45},{"s":"X","p":-55,"v":4.06},{"s":"X","p":-50,"v":4.72},{"s":"X","p":-45,"v":5.40},{"s":"X","p":-40,"v":6.08},{"s":"X","p":-35,"v":6.74},{"s":"X","p":-30,"v":7.34},{"s":"X","p":-25,"v":7.90},{"s":"X","p":-20,"v":8.35},{"s":"X","p":-15,"v":8.62},{"s":"X","p":-10,"v":8.66},{"s":"X","p":-5,"v":8.95},{"s":"X","p":0,"v":9.12},{"s":"X","p":5,"v":9.10},{"s":"X","p":10,"v":8.85},{"s":"X","p":15,"v":8.50},{"s":"X","p":20,"v":8.02},{"s":"X","p":25,"v":7.45},{"s":"X","p":30,"v":6.84},{"s":"X","p":35,"v":6.18},{"s":"X","p":40,"v":5.50},{"s":"X","p":45,"v":4.84},{"s":"X","p":50,"v":4.18},{"s":"X","p":55,"v":3.57},{"s":"X","p":60,"v":3.00},{"s":"X","p":65,"v":2.48},{"s":"X","p":70,"v":2.03},{"s":"X","p":75,"v":1.64},{"s":"X","p":80,"v":1.31},{"s":"X","p":85,"v":1.04},{"s":"X","p":90,"v":0.82},{"s":"X","p":95,"v":0.64},{"s":"X","p":100,"v":0.50},{"s":"X","p":105,"v":0.40},{"s":"X","p":110,"v":0.32},{"s":"X","p":115,"v":0.27},{"s":"X","p":120,"v":0.22},{"s":"X","p":125,"v":0.19},{"s":"X","p":130,"v":0.16},{"s":"X","p":135,"v":0.13},{"s":"X","p":140,"v":0.11},{"s":"X","p":145,"v":0.09},{"s":"X","p":150,"v":0.08},{"s":"X","p":155,"v":0.06},{"s":"X","p":160,"v":0.05},{"s":"X","p":165,"v":0.05},{"s":"X","p":170,"v":0.04},{"s":"X","p":175,"v":0.04},{"s":"X","p":180,"v":0.03},{"s":"X","p":185,"v":0.03},
{"s":"Y","p":-190,"v":0.05},{"s":"Y","p":-150,"v":0.03},{"s":"Y","p":-145,"v":0.04},{"s":"Y","p":-140,"v":0.05},{"s":"Y","p":-135,"v":0.06},{"s":"Y","p":-130,"v":0.07},{"s":"Y","p":-125,"v":0.09},{"s":"Y","p":-120,"v":0.12},{"s":"Y","p":-115,"v":0.15},{"s":"Y","p":-110,"v":0.19},{"s":"Y","p":-105,"v":0.23},{"s":"Y","p":-100,"v":0.27},{"s":"Y","p":-95,"v":0.31},{"s":"Y","p":-90,"v":0.36},{"s":"Y","p":-85,"v":0.44},{"s":"Y","p":-80,"v":0.55},{"s":"Y","p":-75,"v":0.72},{"s":"Y","p":-70,"v":0.95},{"s":"Y","p":-65,"v":1.28},{"s":"Y","p":-60,"v":1.72},{"s":"Y","p":-55,"v":2.28},{"s":"Y","p":-50,"v":2.92},{"s":"Y","p":-45,"v":3.66},{"s":"Y","p":-40,"v":4.52},{"s":"Y","p":-35,"v":5.45},{"s":"Y","p":-30,"v":6.42},{"s":"Y","p":-25,"v":7.38},{"s":"Y","p":-20,"v":8.20},{"s":"Y","p":-15,"v":8.80},{"s":"Y","p":-10,"v":9.15},{"s":"Y","p":-5,"v":9.20},{"s":"Y","p":0,"v":8.95},{"s":"Y","p":5,"v":8.35},{"s":"Y","p":10,"v":7.60},{"s":"Y","p":15,"v":6.70},{"s":"Y","p":20,"v":5.70},{"s":"Y","p":25,"v":4.70},{"s":"Y","p":30,"v":3.75},{"s":"Y","p":35,"v":2.90},{"s":"Y","p":40,"v":2.15},{"s":"Y","p":45,"v":1.55},{"s":"Y","p":50,"v":1.05},{"s":"Y","p":55,"v":0.62},{"s":"Y","p":60,"v":0.34},{"s":"Y","p":65,"v":0.22},{"s":"Y","p":70,"v":0.16},{"s":"Y","p":75,"v":0.13},{"s":"Y","p":80,"v":0.12},{"s":"Y","p":85,"v":0.12},{"s":"Y","p":90,"v":0.11},{"s":"Y","p":95,"v":0.10},{"s":"Y","p":100,"v":0.08},{"s":"Y","p":105,"v":0.05},{"s":"Y","p":110,"v":0.03}
]
},
"hconcat": [
{
"width": 267, "height": 267,
"title": {"text": "400nm pump intensity @ 220μJ  [W/cm²]", "fontSize": 16, "fontWeight": "bold", "anchor": "middle", "frame": "group", "offset": -13, "dx": -4, "color": "#111111"},
"resolve": {"axis": {"x": "independent", "y": "independent"}},
"layer": [
{
"data": {"name": "heat"},
"mark": {"type": "square", "size": 34, "filled": true, "opacity": 1, "strokeWidth": 0},
"encoding": {
"x": {"field": "x", "type": "quantitative", "scale": {"domain": [-250, 250], "nice": false}, "axis": {"values": [-200, -100, 0, 100, 200], "title": "X (μm)", "labelPadding": 13, "labelExpr": "replace(datum.label, '−', '-')"}},
"y": {"field": "y", "type": "quantitative", "scale": {"domain": [-250, 250], "nice": false, "reverse": true}, "axis": {"values": [-200, -150, -100, -50, 0, 50, 100, 150, 200], "title": "Y (μm)", "labelExpr": "replace(datum.label, '−', '-')"}},
"color": {"field": "v", "type": "quantitative",
"scale": {"domain": [0, 0.5, 1, 1.5, 2, 2.5, 2.9, 3.3, 3.7, 4.2, 4.8, 5.3, 6, 6.6, 7.1, 7.6, 8.1, 8.7, 9.37],
"range": ["#ffffff", "#dedef9", "#b6b6f3", "#8585f3", "#4b4bf6", "#1414fa", "#0a1cee", "#1a44b8", "#1c6c8c", "#10a050", "#00d81a", "#2aee00", "#98f000", "#e0f800", "#ffff00", "#ffcc00", "#ff9000", "#ff5400", "#ff1000"], "interpolate": "rgb"},
"legend": {"orient": "none", "legendX": 275, "legendY": -19, "direction": "vertical", "gradientLength": 267, "gradientThickness": 16, "padding": 0, "title": "\u00a0", "titleFontSize": 13, "titleFontWeight": "normal", "titleColor": "#555555", "titlePadding": 4, "values": [1, 2, 3, 4, 5, 6, 7, 8, 9], "labelFontSize": 14, "labelColor": "#262626", "labelOffset": 4, "gradientStrokeColor": "#777777", "gradientStrokeWidth": 1}}
}
},
{
"data": {"name": "heat"},
"transform": [{"filter": "datum.v > 9.3"}],
"mark": {"type": "square", "size": 1, "opacity": 0},
"encoding": {
"x": {"field": "x", "type": "quantitative", "scale": {"domain": [-250, 250], "nice": false}, "axis": {"orient": "top", "values": [-200, -100, 0, 100, 200], "labels": false, "title": "×10¹³", "titleX": 293, "titleY": -7, "titleAngle": 0, "titleAlign": "left", "titleBaseline": "alphabetic", "titleFontSize": 13, "titleColor": "#555555"}},
"y": {"field": "y", "type": "quantitative", "scale": {"domain": [-250, 250], "nice": false, "reverse": true}, "axis": {"orient": "right", "values": [-200, -150, -100, -50, 0, 50, 100, 150, 200], "labels": false, "title": null}}
}
}
]
},
{
"width": 311, "height": 316,
"title": {"text": "×10¹³", "fontSize": 14, "fontWeight": "normal", "anchor": "start", "frame": "group", "offset": 6, "dx": 5, "color": "#555555"},
"resolve": {"axis": {"x": "independent", "y": "independent"}, "legend": {"color": "independent"}},
"layer": [
{
"data": {"name": "dots"},
"mark": {"type": "point", "filled": true, "size": 5, "opacity": 1},
"encoding": {
"x": {"field": "p", "type": "quantitative", "scale": {"domain": [-300, 300], "nice": false}, "axis": {"values": [-300, -200, -100, 0, 100, 200, 300], "title": "Position, μm", "labelPadding": 14, "labelExpr": "replace(datum.label, '−', '-')"}},
"y": {"field": "v", "type": "quantitative", "scale": {"domain": [0, 10], "nice": false}, "axis": {"values": [0, 1, 2, 3, 4, 5, 6, 7, 8, 9, 10], "title": "Intensity, W/cm²"}},
"color": {"field": "s", "type": "nominal", "scale": {"domain": ["X", "Y"], "range": ["#f01c1c", "#1c1cee"]}, "legend": null}
}
},
{
"data": {"name": "fits"},
"mark": {"type": "line", "strokeWidth": 1.8},
"encoding": {
"x": {"field": "p", "type": "quantitative", "scale": {"domain": [-300, 300], "nice": false}, "axis": {"orient": "top", "values": [-300, -200, -100, 0, 100, 200, 300], "labels": false, "title": null}},
"y": {"field": "v", "type": "quantitative", "scale": {"domain": [0, 10], "nice": false}, "axis": {"orient": "right", "values": [0, 1, 2, 3, 4, 5, 6, 7, 8, 9, 10], "labels": false, "title": null}},
"color": {"field": "s", "type": "nominal", "scale": {"domain": ["X", "Y"], "range": ["#f01c1c", "#1c1cee"]},
"legend": {"orient": "none", "legendX": 181, "legendY": 8, "title": null, "symbolType": "stroke", "symbolSize": 900, "symbolStrokeWidth": 2, "clipHeight": 15, "labelFontSize": 12.5, "labelColor": "#111111", "labelOffset": 3, "labelLimit": 300, "strokeColor": "#444444", "fillColor": "#ffffff", "padding": 4, "rowPadding": 1,
"labelExpr": "datum.label == 'X' ? 'X: FWHM diam: 98.5 μm' : 'Y: FWHM diam: 64.5 μm'"}}
}
}
]
}
]
}
